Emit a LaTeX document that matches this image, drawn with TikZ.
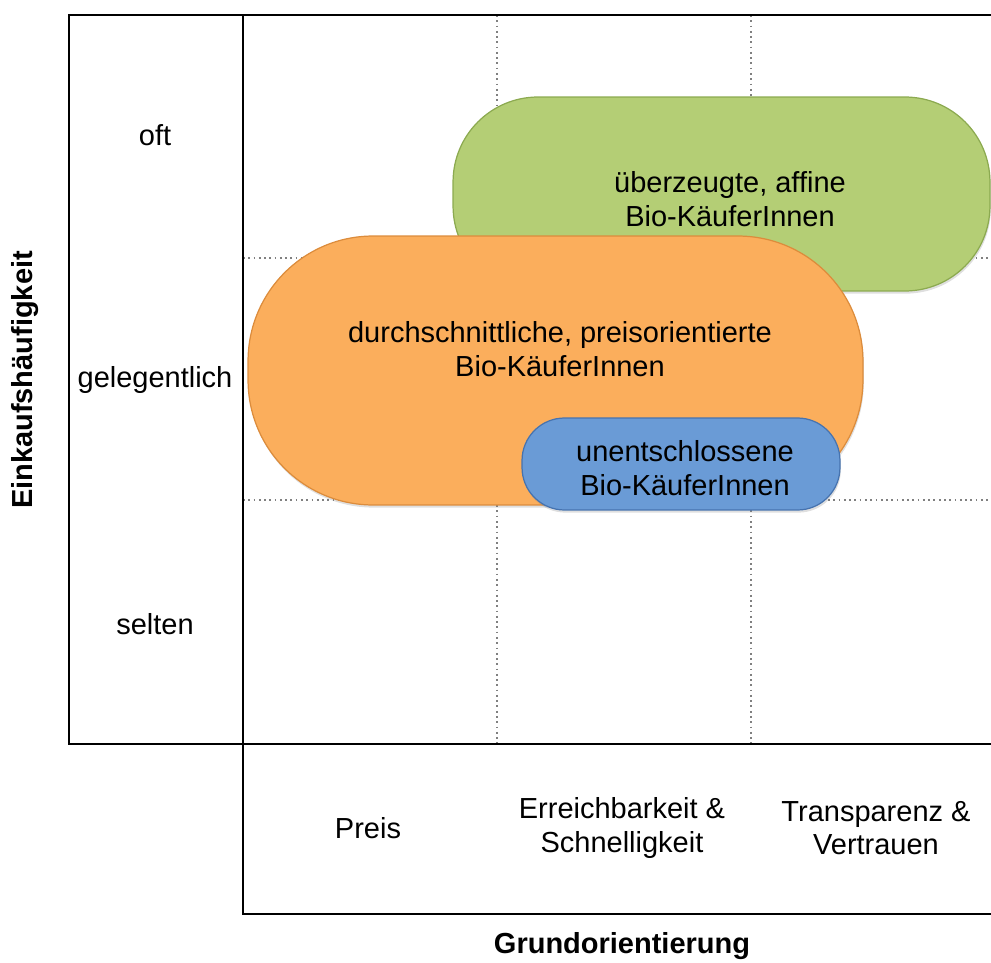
\documentclass[tikz,border=0pt]{standalone}
\usepackage{fontspec}
\setmainfont{Liberation Sans}
\usetikzlibrary{shadows}

\definecolor{affgreen}{RGB}{180,206,117}
\definecolor{affgreenline}{RGB}{140,170,80}
\definecolor{avgorange}{RGB}{251,174,92}
\definecolor{avgorangeline}{RGB}{220,140,60}
\definecolor{undblue}{RGB}{106,155,214}
\definecolor{undblueline}{RGB}{70,115,175}

\begin{document}
\begin{tikzpicture}[x=0.02cm,y=-0.02cm,
        frame/.style={line width=1.2pt,black},
        gridline/.style={dotted,gray,line width=1pt},
        txt/.style={font=\fontsize{16.5}{19}\selectfont,align=center,inner sep=0pt},
        axis/.style={txt,font=\fontsize{16.5}{19}\selectfont\bfseries},
        bubble/.style={draw=#1line,fill=#1,line width=0.7pt,
            drop shadow={opacity=0.25,shadow xshift=0.5pt,shadow yshift=-1.5pt}}]
        \useasboundingbox (0,0) rectangle (991,963);
        % Dotted grid
        \draw[gridline] (243,258) -- (991,258);
        \draw[gridline] (243,500) -- (991,500);
        \draw[gridline] (497,15) -- (497,744);
        \draw[gridline] (751,15) -- (751,744);
        % Frame
        \draw[frame] (991,15) -- (69,15) -- (69,744) -- (991,744);
        \draw[frame] (243,15) -- (243,914) -- (991,914);
        % Segments
        \node[bubble=affgreen,minimum width=10.74cm,minimum height=3.88cm,rounded corners=1.7cm]
            (affine) at (721.5,194) {};
        \node[bubble=avgorange,minimum width=12.3cm,minimum height=5.38cm,rounded corners=2.5cm]
            (average) at (555.5,370.5) {};
        \node[bubble=undblue,minimum width=6.36cm,minimum height=1.84cm,rounded corners=0.85cm]
            (undecided) at (681,464) {};
        \node[txt] (affinetext) at (730,199) {überzeugte, affine\\Bio-KäuferInnen};
        \node[txt] (averagetext) at (560,349) {durchschnittliche, preisorientierte\\Bio-KäuferInnen};
        \node[txt] (undecidedtext) at (685,468) {unentschlossene\\Bio-KäuferInnen};
        % Row labels
        \node[txt] (often) at (155,135) {oft};
        \node[txt] (sometimes) at (155,380) {gelegentlich};
        \node[txt] (rarely) at (155,624) {selten};
        \node[axis,rotate=90] (yaxis) at (25,380) {Einkaufshäufigkeit};
        % Column labels
        \node[txt] (price) at (368,828) {Preis};
        \node[txt] (reach) at (622,828) {Erreichbarkeit \&\\Schnelligkeit};
        \node[txt] (trust) at (876,828) {Transparenz \&\\Vertrauen};
        \node[axis] (xaxis) at (622,946) {Grundorientierung};
    \end{tikzpicture}
\end{document}
